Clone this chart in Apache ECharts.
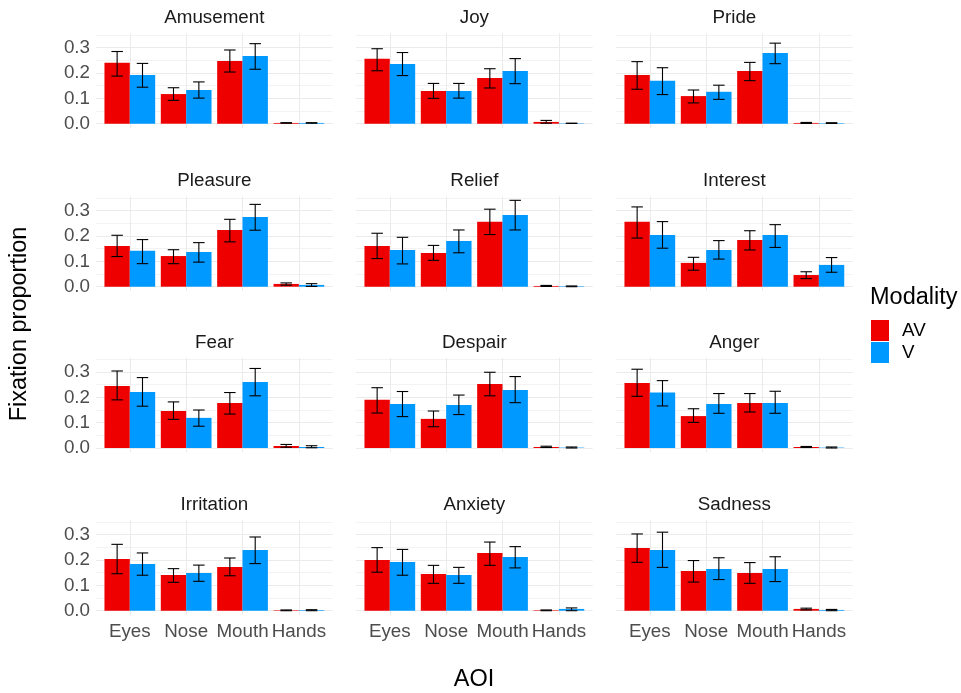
<!DOCTYPE html>
<html>
<head>
<meta charset="utf-8">
<script src="https://cdn.jsdelivr.net/npm/echarts@6/dist/echarts.min.js"></script>
<style>
  html, body { margin: 0; padding: 0; background: #ffffff; }
  #chart { width: 961px; height: 693px; }
</style>
</head>
<body>
<div id="chart"></div>
<script>
// ---- data -------------------------------------------------------------
const aoi = ['Eyes', 'Nose', 'Mouth', 'Hands'];
const emotions = ['Amusement', 'Joy', 'Pride', 'Pleasure', 'Relief', 'Interest',
                  'Fear', 'Despair', 'Anger', 'Irritation', 'Anxiety', 'Sadness'];
const modalities = ['AV', 'V'];

// mean fixation proportion per emotion, in AOI order
const avMean = [
  [0.241, 0.117, 0.248, 0.003], [0.256, 0.129, 0.180, 0.007], [0.192, 0.109, 0.208, 0.003],
  [0.161, 0.121, 0.224, 0.011], [0.161, 0.133, 0.256, 0.003], [0.256, 0.094, 0.184, 0.046],
  [0.245, 0.146, 0.178, 0.008], [0.190, 0.115, 0.253, 0.004], [0.257, 0.126, 0.178, 0.004],
  [0.204, 0.141, 0.173, 0.002], [0.200, 0.145, 0.228, 0.002], [0.248, 0.157, 0.149, 0.007]
];
const avLow = [
  [0.188, 0.092, 0.204, 0.002], [0.209, 0.100, 0.141, 0.002], [0.136, 0.082, 0.170, 0.001],
  [0.119, 0.091, 0.177, 0.006], [0.111, 0.104, 0.206, 0.001], [0.192, 0.065, 0.145, 0.032],
  [0.190, 0.113, 0.134, 0.003], [0.138, 0.084, 0.206, 0.002], [0.204, 0.101, 0.142, 0.002],
  [0.146, 0.112, 0.138, 0.000], [0.152, 0.108, 0.179, 0.000], [0.191, 0.113, 0.108, 0.003]
];
const avHigh = [
  [0.285, 0.142, 0.291, 0.004], [0.296, 0.159, 0.217, 0.013], [0.245, 0.133, 0.242, 0.005],
  [0.203, 0.146, 0.266, 0.015], [0.211, 0.163, 0.306, 0.005], [0.315, 0.116, 0.221, 0.059],
  [0.304, 0.182, 0.219, 0.014], [0.238, 0.146, 0.299, 0.007], [0.311, 0.155, 0.215, 0.006],
  [0.262, 0.166, 0.208, 0.003], [0.249, 0.179, 0.271, 0.003], [0.303, 0.198, 0.190, 0.010]
];
const vMean = [
  [0.192, 0.133, 0.267, 0.003], [0.236, 0.129, 0.208, 0.0015], [0.170, 0.126, 0.279, 0.002],
  [0.142, 0.137, 0.275, 0.007], [0.145, 0.180, 0.283, 0.002], [0.204, 0.145, 0.204, 0.086],
  [0.221, 0.119, 0.261, 0.004], [0.174, 0.170, 0.229, 0.0015], [0.219, 0.174, 0.178, 0.0015],
  [0.184, 0.149, 0.240, 0.0025], [0.192, 0.141, 0.212, 0.007], [0.240, 0.165, 0.165, 0.003]
];
const vLow = [
  [0.144, 0.101, 0.215, 0.002], [0.190, 0.101, 0.158, 0.001], [0.115, 0.096, 0.237, 0.001],
  [0.091, 0.097, 0.223, 0.001], [0.090, 0.134, 0.224, 0.000], [0.152, 0.109, 0.155, 0.057],
  [0.165, 0.086, 0.206, 0.001], [0.124, 0.132, 0.179, 0.000], [0.166, 0.137, 0.137, 0.000],
  [0.140, 0.116, 0.186, 0.000], [0.140, 0.108, 0.169, 0.000], [0.171, 0.123, 0.115, 0.000]
];
const vHigh = [
  [0.238, 0.165, 0.316, 0.004], [0.281, 0.159, 0.257, 0.002], [0.221, 0.152, 0.318, 0.004],
  [0.186, 0.174, 0.325, 0.012], [0.195, 0.224, 0.341, 0.003], [0.257, 0.182, 0.245, 0.115],
  [0.278, 0.150, 0.314, 0.009], [0.223, 0.209, 0.282, 0.004], [0.266, 0.215, 0.224, 0.004],
  [0.228, 0.180, 0.291, 0.004], [0.242, 0.171, 0.253, 0.011], [0.310, 0.209, 0.213, 0.005]
];
const yTickLabels = [0, 0.1, 0.2, 0.3];

// ---- layout & style ---------------------------------------------------
const FONT = 'Liberation Sans, Arial, Helvetica, sans-serif';
const colors = ['#EE0000', '#0099FF'];
const colLeft = [96, 356, 616];
const panelW = 236.7;
const rowZero = [123.7, 286.7, 448, 610.7];   // pixel row of y = 0 in each facet row
const pxPerUnit = 253.3;
const yMin = -0.017, yMax = 0.357;
const gridMax = 0.35;                          // highest (minor) grid line
const unit = panelW / 4.2;                     // width of one AOI slot
const smallSize = 18.8, bigSize = 23.5;

const means = [avMean, vMean], lows = [avLow, vLow], highs = [avHigh, vHigh];

function errorBarRenderer(side) {
  return function (params, api) {
    const c = api.value(0), lo = api.value(1), hi = api.value(2);
    const band = api.size([1, 0])[0];
    const pLo = api.coord([c, lo]);
    const pHi = api.coord([c, hi]);
    const x = pLo[0] + side * 0.225 * band;
    const half = 0.102 * band;
    const style = { stroke: '#000000', lineWidth: 1.1 };
    return {
      type: 'group',
      children: [
        { type: 'line', shape: { x1: x, y1: pLo[1], x2: x, y2: pHi[1] }, style },
        { type: 'line', shape: { x1: x - half, y1: pHi[1], x2: x + half, y2: pHi[1] }, style },
        { type: 'line', shape: { x1: x - half, y1: pLo[1], x2: x + half, y2: pLo[1] }, style }
      ]
    };
  };
}

const grid = [], xAxis = [], yAxis = [], series = [], graphic = [];

emotions.forEach((name, k) => {
  const r = Math.floor(k / 3), c = k % 3;
  const zero = rowZero[r];

  // background grid: horizontal grid lines + y labels
  grid.push({
    left: colLeft[c], top: zero - gridMax * pxPerUnit,
    width: panelW, height: gridMax * pxPerUnit,
    outerBoundsMode: 'none'
  });
  xAxis.push({ gridIndex: 2 * k, type: 'value', min: 0, max: 1, show: false });
  yAxis.push({
    gridIndex: 2 * k, type: 'value', min: 0, max: gridMax, interval: 0.05,
    axisLine: { show: false }, axisTick: { show: false },
    axisLabel: {
      show: c === 0, margin: 6, color: '#4D4D4D', fontSize: smallSize, fontFamily: FONT,
      formatter: v => {
        const hit = yTickLabels.find(t => Math.abs(t - v) < 1e-6);
        return hit === undefined ? '' : hit.toFixed(1);
      }
    },
    splitLine: { show: true, lineStyle: { color: ['#EBEBEB', '#F3F3F3'], width: 1 } }
  });

  // data grid: AOI slots, bars and error bars
  const gTop = zero - yMax * pxPerUnit;
  const gH = (yMax - yMin) * pxPerUnit;
  grid.push({
    left: colLeft[c] + 0.1 * unit, top: gTop,
    width: 4 * unit, height: gH,
    outerBoundsMode: 'none'
  });
  xAxis.push({
    gridIndex: 2 * k + 1, type: 'category', data: aoi,
    axisLine: { show: false, onZero: false },
    axisTick: { show: true, alignWithLabel: true, inside: true, length: gH, interval: 0,
                lineStyle: { color: '#EBEBEB', width: 1 } },
    axisLabel: { show: r === 3, interval: 0, hideOverlap: false, margin: 7,
                 color: '#4D4D4D', fontSize: smallSize, fontFamily: FONT, lineHeight: 19 },
    splitLine: { show: false }
  });
  yAxis.push({ gridIndex: 2 * k + 1, type: 'value', min: yMin, max: yMax, show: false });

  modalities.forEach((m, s) => {
    series.push({
      name: m, type: 'bar',
      xAxisIndex: 2 * k + 1, yAxisIndex: 2 * k + 1,
      data: means[s][k],
      barGap: '0%', barCategoryGap: '10%',
      itemStyle: { color: colors[s] },
      silent: true, z: 2
    });
  });
  modalities.forEach((m, s) => {
    series.push({
      name: m + ' interval', type: 'custom',
      xAxisIndex: 2 * k + 1, yAxisIndex: 2 * k + 1,
      renderItem: errorBarRenderer(s === 0 ? -1 : 1),
      encode: { x: 0, y: [1, 2] },
      data: aoi.map((_, j) => [j, lows[s][k][j], highs[s][k][j]]),
      silent: true, z: 3
    });
  });

  // facet strip title
  graphic.push({
    type: 'text', x: colLeft[c] + panelW / 2, y: zero - 105.5, silent: true,
    style: { text: name, font: smallSize + 'px ' + FONT, fill: '#1A1A1A',
             align: 'center', verticalAlign: 'middle' }
  });
});

graphic.push({
  type: 'text', x: 20, y: 324, rotation: Math.PI / 2, silent: true,
  style: { text: 'Fixation proportion', font: bigSize + 'px ' + FONT, fill: '#000000',
           align: 'center', verticalAlign: 'middle' }
});
graphic.push({
  type: 'text', x: 474, y: 680, silent: true,
  style: { text: 'AOI', font: bigSize + 'px ' + FONT, fill: '#000000',
           align: 'center', verticalAlign: 'middle' }
});
graphic.push({
  type: 'text', x: 870, y: 298, silent: true,
  style: { text: 'Modality', font: bigSize + 'px ' + FONT, fill: '#000000',
           align: 'left', verticalAlign: 'middle' }
});

const chart = echarts.init(document.getElementById('chart'), null, { renderer: 'canvas' });
chart.setOption({
  animation: false,
  backgroundColor: '#ffffff',
  textStyle: { fontFamily: FONT },
  grid, xAxis, yAxis, series, graphic,
  legend: {
    data: modalities, orient: 'vertical', left: 871, top: 320, padding: 0,
    itemWidth: 18, itemHeight: 21, itemGap: 1, icon: 'rect',
    selectedMode: false,
    textStyle: { fontSize: smallSize, color: '#000000', fontFamily: FONT, padding: [0, 0, 0, 8] }
  }
});
</script>
</body>
</html>
